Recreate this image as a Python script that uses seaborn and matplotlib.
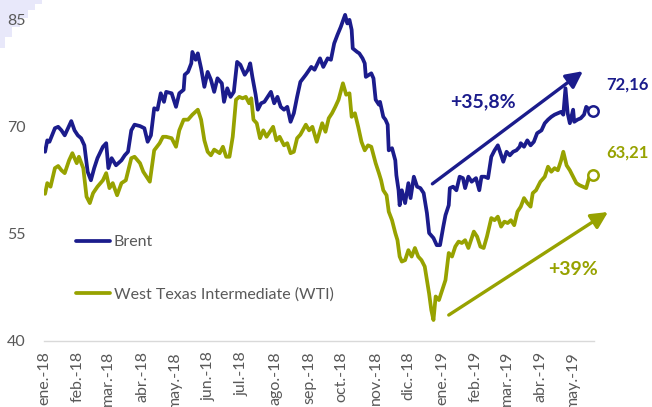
import pandas as pd
import matplotlib
matplotlib.use("Agg")
import matplotlib.pyplot as plt
import matplotlib.dates as mdates
from matplotlib.patches import Polygon
import seaborn as sns

# Brent
brent_dates = [
    "2018-01-02", "2018-01-04", "2018-01-06", "2018-01-11", "2018-01-14", "2018-01-17", "2018-01-20",
    "2018-01-26", "2018-01-29", "2018-02-01", "2018-02-04", "2018-02-07", "2018-02-10", "2018-02-13",
    "2018-02-16", "2018-02-19", "2018-02-24", "2018-02-27", "2018-03-01", "2018-03-04", "2018-03-08",
    "2018-03-13", "2018-03-16", "2018-03-19", "2018-03-22", "2018-03-25", "2018-03-30", "2018-04-03",
    "2018-04-06", "2018-04-09", "2018-04-12", "2018-04-15", "2018-04-18", "2018-04-21", "2018-04-23",
    "2018-04-28", "2018-05-02", "2018-05-05", "2018-05-09", "2018-05-10", "2018-05-13", "2018-05-16",
    "2018-05-17", "2018-05-20", "2018-05-22", "2018-05-25", "2018-05-28", "2018-05-31", "2018-06-03",
    "2018-06-06", "2018-06-09", "2018-06-13", "2018-06-15", "2018-06-18", "2018-06-21", "2018-06-24",
    "2018-06-27", "2018-06-30", "2018-07-04", "2018-07-07", "2018-07-09", "2018-07-11", "2018-07-14",
    "2018-07-16", "2018-07-19", "2018-07-22", "2018-07-25", "2018-07-28", "2018-07-31", "2018-08-03",
    "2018-08-06", "2018-08-09", "2018-08-12", "2018-08-15", "2018-08-18", "2018-08-21", "2018-08-24",
    "2018-08-29", "2018-09-03", "2018-09-06", "2018-09-11", "2018-09-14", "2018-09-18", "2018-09-21",
    "2018-09-24", "2018-09-27", "2018-09-30", "2018-10-04", "2018-10-06", "2018-10-08", "2018-10-10",
    "2018-10-11", "2018-10-15", "2018-10-17", "2018-10-20", "2018-10-22", "2018-10-23", "2018-10-26",
    "2018-10-28", "2018-10-30", "2018-11-01", "2018-11-04", "2018-11-05", "2018-11-08", "2018-11-10",
    "2018-11-12", "2018-11-13", "2018-11-16", "2018-11-19", "2018-11-20", "2018-11-22", "2018-11-23",
    "2018-11-25", "2018-11-28", "2018-12-01", "2018-12-03", "2018-12-06", "2018-12-09", "2018-12-12",
    "2018-12-15", "2018-12-18", "2018-12-20", "2018-12-24", "2018-12-27", "2018-12-30", "2019-01-02",
    "2019-01-04", "2019-01-07", "2019-01-08", "2019-01-11", "2019-01-14", "2019-01-17", "2019-01-20",
    "2019-01-22", "2019-01-25", "2019-01-28", "2019-02-01", "2019-02-04", "2019-02-06", "2019-02-09",
    "2019-02-12", "2019-02-15", "2019-02-18", "2019-02-21", "2019-02-23", "2019-02-26", "2019-03-01",
    "2019-03-04", "2019-03-07", "2019-03-10", "2019-03-13", "2019-03-14", "2019-03-17", "2019-03-20",
    "2019-03-23", "2019-03-26", "2019-03-29", "2019-04-02", "2019-04-05", "2019-04-08", "2019-04-11",
    "2019-04-14", "2019-04-17", "2019-04-20", "2019-04-22", "2019-04-24", "2019-04-26", "2019-04-28",
    "2019-05-01", "2019-05-02", "2019-05-05", "2019-05-08", "2019-05-11", "2019-05-13", "2019-05-16",
    "2019-05-19",
]
brent_values = [
    66.5, 68.1, 67.9, 69.8, 70.0, 69.5, 68.8,
    70.8, 69.5, 68.8, 68.4, 67.4, 63.7, 62.5,
    64.2, 65.6, 67.2, 67.7, 64.2, 65.6, 64.6,
    65.3, 66.0, 66.5, 69.5, 70.3, 70.1, 69.8,
    67.9, 68.8, 72.6, 72.4, 74.7, 73.5, 74.9,
    74.7, 72.8, 74.7, 75.2, 77.3, 77.7, 78.9,
    80.5, 79.4, 80.3, 78.2, 75.6, 77.7, 76.6,
    74.9, 76.8, 76.1, 73.5, 75.4, 74.2, 74.9,
    79.1, 78.7, 77.3, 78.0, 78.9, 77.0, 74.5,
    72.4, 73.3, 73.5, 74.2, 74.9, 73.3, 74.2,
    72.8, 72.4, 72.8, 70.7, 71.9, 74.2, 76.3,
    77.3, 78.4, 78.0, 79.6, 78.4, 79.6, 79.4,
    81.7, 82.9, 84.0, 85.7, 84.5, 85.0, 83.6,
    81.0, 80.5, 80.3, 79.6, 78.9, 77.0, 77.3,
    77.5, 76.8, 73.8, 73.1, 73.5, 71.4, 71.0,
    70.3, 66.7, 67.0, 65.3, 63.2, 61.1, 59.0,
    61.1, 59.3, 62.1, 60.0, 63.0, 61.6, 61.4,
    60.7, 57.9, 55.1, 54.4, 53.4, 53.4, 56.0,
    57.6, 59.0, 61.4, 61.6, 61.1, 63.0, 62.8,
    61.4, 63.0, 62.3, 62.8, 61.1, 63.0, 63.0,
    62.8, 65.8, 66.7, 67.4, 66.5, 65.1, 66.5,
    66.0, 66.5, 66.7, 67.2, 67.7, 67.2, 68.1,
    67.4, 67.9, 69.1, 69.5, 70.5, 71.0, 71.4,
    71.7, 71.9, 72.1, 71.7, 75.4, 71.9, 70.5,
    72.4, 70.7, 71.0, 71.2, 71.7, 72.8, 72.4,
    72.16,
]

# WTI
wti_dates = [
    "2018-01-02", "2018-01-04", "2018-01-07", "2018-01-11", "2018-01-14", "2018-01-17", "2018-01-20",
    "2018-01-24", "2018-01-27", "2018-01-31", "2018-02-02", "2018-02-06", "2018-02-09", "2018-02-12",
    "2018-02-15", "2018-02-19", "2018-02-24", "2018-02-27", "2018-03-02", "2018-03-05", "2018-03-09",
    "2018-03-13", "2018-03-17", "2018-03-22", "2018-03-25", "2018-03-30", "2018-04-02", "2018-04-05",
    "2018-04-08", "2018-04-12", "2018-04-17", "2018-04-20", "2018-04-23", "2018-04-28", "2018-05-02",
    "2018-05-05", "2018-05-09", "2018-05-13", "2018-05-17", "2018-05-22", "2018-05-25", "2018-05-28",
    "2018-05-31", "2018-06-03", "2018-06-06", "2018-06-11", "2018-06-14", "2018-06-17", "2018-06-20",
    "2018-06-23", "2018-06-26", "2018-06-29", "2018-07-02", "2018-07-05", "2018-07-08", "2018-07-10",
    "2018-07-12", "2018-07-15", "2018-07-18", "2018-07-21", "2018-07-24", "2018-07-27", "2018-07-30",
    "2018-08-02", "2018-08-05", "2018-08-09", "2018-08-12", "2018-08-15", "2018-08-18", "2018-08-21",
    "2018-08-24", "2018-08-29", "2018-09-01", "2018-09-04", "2018-09-08", "2018-09-13", "2018-09-16",
    "2018-09-19", "2018-09-22", "2018-09-25", "2018-09-28", "2018-10-02", "2018-10-05", "2018-10-08",
    "2018-10-10", "2018-10-13", "2018-10-16", "2018-10-19", "2018-10-22", "2018-10-25", "2018-10-28",
    "2018-11-01", "2018-11-04", "2018-11-06", "2018-11-08", "2018-11-11", "2018-11-13", "2018-11-16",
    "2018-11-19", "2018-11-21", "2018-11-23", "2018-11-25", "2018-11-28", "2018-12-01", "2018-12-04",
    "2018-12-07", "2018-12-10", "2018-12-13", "2018-12-16", "2018-12-18", "2018-12-20", "2018-12-22",
    "2018-12-24", "2018-12-26", "2018-12-29", "2019-01-01", "2019-01-04", "2019-01-07", "2019-01-10",
    "2019-01-13", "2019-01-16", "2019-01-19", "2019-01-22", "2019-01-25", "2019-01-30", "2019-02-02",
    "2019-02-05", "2019-02-08", "2019-02-11", "2019-02-15", "2019-02-18", "2019-02-21", "2019-02-24",
    "2019-02-27", "2019-03-02", "2019-03-05", "2019-03-08", "2019-03-11", "2019-03-14", "2019-03-17",
    "2019-03-20", "2019-03-23", "2019-03-25", "2019-03-28", "2019-04-01", "2019-04-05", "2019-04-08",
    "2019-04-11", "2019-04-14", "2019-04-17", "2019-04-20", "2019-04-22", "2019-04-25", "2019-04-28",
    "2019-05-01", "2019-05-04", "2019-05-07", "2019-05-10", "2019-05-13", "2019-05-15", "2019-05-17",
    "2019-05-19",
]
wti_values = [
    60.6, 62.1, 61.6, 64.2, 64.5, 63.9, 63.5,
    65.3, 66.3, 64.9, 65.8, 64.2, 60.2, 59.3,
    60.7, 61.6, 62.5, 63.5, 61.4, 62.1, 60.4,
    62.1, 62.5, 65.6, 65.8, 64.9, 63.7, 63.0,
    62.3, 66.7, 67.7, 68.6, 68.6, 68.4, 67.2,
    69.5, 71.0, 71.0, 71.7, 72.4, 71.0, 68.1,
    66.5, 66.0, 66.8, 66.3, 67.2, 65.8, 65.8,
    68.6, 73.8, 74.2, 74.0, 74.2, 73.3, 74.0,
    71.0, 70.5, 68.4, 69.5, 68.6, 69.3, 70.0,
    68.1, 68.6, 67.4, 67.7, 66.3, 66.5, 68.4,
    68.9, 70.3, 69.5, 70.0, 67.9, 70.5, 69.3,
    71.2, 71.9, 72.8, 73.8, 76.1, 74.5, 74.7,
    71.4, 71.9, 70.0, 67.9, 66.7, 67.4, 67.2,
    64.9, 63.5, 62.5, 61.1, 60.4, 58.1, 56.9,
    55.1, 54.1, 51.8, 51.1, 51.3, 52.7, 51.8,
    53.0, 51.8, 51.3, 50.4, 48.5, 46.6, 44.3,
    42.9, 46.2, 45.7, 47.1, 48.5, 52.3, 51.8,
    53.2, 53.9, 53.7, 54.1, 53.0, 55.3, 54.6,
    53.2, 53.0, 54.6, 57.2, 56.9, 57.4, 56.0,
    56.7, 56.5, 56.9, 56.2, 58.1, 58.8, 60.0,
    59.3, 58.8, 60.7, 61.1, 62.3, 63.0, 64.4,
    63.7, 64.2, 63.9, 65.3, 66.5, 64.6, 63.9,
    63.0, 62.1, 61.8, 61.6, 61.4, 62.5, 63.5,
    63.21,
]

month_labels = ["ene.-18", "feb.-18", "mar.-18", "abr.-18", "may.-18", "jun.-18", "jul.-18",
                "ago.-18", "sep.-18", "oct.-18", "nov.-18", "dic.-18", "ene.-19", "feb.-19",
                "mar.-19", "abr.-19", "may.-19"]
month_ticks = pd.date_range("2018-01-01", "2019-05-01", freq="MS")
y_ticks = [40, 55, 70, 85]

brent_label = "Brent"
wti_label = "West Texas Intermediate (WTI)"
brent_last_text = "72,16"
wti_last_text = "63,21"
brent_change_text = "+35,8%"
wti_change_text = "+39%"

BLUE = "#1B1C8C"
OLIVE = "#97A200"
GREY = "#595959"
AXIS = "#D9D9D9"

sns.set_theme(style="white")
plt.rcParams["font.family"] = ["Lato", "DejaVu Sans"]

brent = pd.DataFrame({"fecha": pd.to_datetime(brent_dates), "precio": brent_values})
wti = pd.DataFrame({"fecha": pd.to_datetime(wti_dates), "precio": wti_values})


def dnum(d):
    return mdates.date2num(pd.Timestamp(d))


fig = plt.figure(figsize=(6.52, 4.07), dpi=100)

# faint lavender corner in the top left, behind everything
corner_px = [(0, 0), (42, 0), (42, 4), (35, 4), (35, 10), (28, 10), (28, 18), (20, 18), (20, 27),
             (12, 27), (12, 37), (5, 37), (5, 48), (0, 48)]
fig.patches.append(Polygon([(x / 652, 1 - y / 407) for x, y in corner_px], closed=True,
                           transform=fig.transFigure, fc="#E8E8FA", ec="none", zorder=-5))

ax = fig.add_axes([44 / 652, 66.3 / 407, 550.3 / 652, 340.7 / 407])
ax.patch.set_alpha(0)

sns.lineplot(data=brent, x="fecha", y="precio", color=BLUE, lw=2.7, label=brent_label, ax=ax)
sns.lineplot(data=wti, x="fecha", y="precio", color=OLIVE, lw=2.7, label=wti_label, ax=ax)

# hollow circles on the last values
for df, col in ((brent, BLUE), (wti, OLIVE)):
    last = df.iloc[-1]
    ax.plot([last["fecha"]], [last["precio"]], "o", ms=7.5, mfc="white", mec=col, mew=1.8,
            clip_on=False, zorder=5)

ax.set_xlim(pd.Timestamp("2018-01-01"), pd.Timestamp("2019-05-20 10:00"))
ax.set_ylim(40, 40 + 340.7 / 7.13)
ax.set_xticks(month_ticks)
ax.set_xticklabels(month_labels, rotation=90)
ax.set_yticks(y_ticks)
ax.set_xlabel("")
ax.set_ylabel("")

for side in ("left", "top", "right"):
    ax.spines[side].set_visible(False)
ax.spines["bottom"].set_color(AXIS)
ax.spines["bottom"].set_linewidth(1)
ax.tick_params(axis="x", length=2.5, width=1, color=AXIS, labelcolor=GREY, labelsize=11.5, pad=5)
ax.tick_params(axis="y", length=0, labelcolor=GREY, labelsize=11.5, pad=13)

# trend arrows
arrow_style = "-|>,head_length=0.5,head_width=0.25"
ax.annotate("", xy=(dnum("2019-05-10"), 77.8), xytext=(dnum("2018-12-23"), 62.0),
            arrowprops=dict(arrowstyle=arrow_style, color=BLUE, lw=2.4,
                            mutation_scale=20, shrinkA=0, shrinkB=0, clip_on=False),
            annotation_clip=False)
ax.annotate("", xy=(dnum("2019-06-02"), 58.05), xytext=(dnum("2019-01-07"), 43.6),
            arrowprops=dict(arrowstyle=arrow_style, color=OLIVE, lw=2.4,
                            mutation_scale=20, shrinkA=0, shrinkB=0, clip_on=False),
            annotation_clip=False)

ax.text(dnum("2019-02-07"), 73.5, brent_change_text, color=BLUE, fontsize=14, fontweight="bold",
        ha="center", va="center")
ax.text(dnum("2019-05-01"), 50.05, wti_change_text, color=OLIVE, fontsize=14, fontweight="bold",
        ha="center", va="center", clip_on=False)

ax.annotate(brent_last_text, xy=(dnum(brent_dates[-1]), brent_values[-1]), xytext=(25, 19),
            textcoords="offset points", color=BLUE, fontsize=12, fontweight="bold",
            ha="center", va="center", annotation_clip=False)
ax.annotate(wti_last_text, xy=(dnum(wti_dates[-1]), wti_values[-1]), xytext=(25, 16),
            textcoords="offset points", color=OLIVE, fontsize=12, fontweight="bold",
            ha="center", va="center", annotation_clip=False)

ax.legend(loc="upper left", bbox_to_anchor=(76 / 652, 1 - 235 / 407), bbox_transform=fig.transFigure,
          frameon=False, fontsize=11.5, labelcolor=GREY, handlelength=2.1, handletextpad=0.25,
          labelspacing=2.4, borderpad=0, borderaxespad=0)

fig.savefig("out.png", dpi=100, facecolor="white")
plt.close(fig)
